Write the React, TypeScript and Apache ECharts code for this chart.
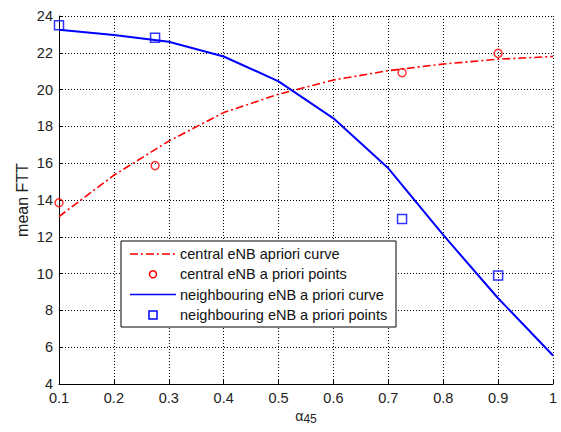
import React, { useEffect, useRef } from "react";
import * as echarts from "echarts";

const curveX = [0.1, 0.2, 0.3, 0.4, 0.5, 0.6, 0.7, 0.8, 0.9, 1.0];
const centralCurve = [13.1, 15.35, 17.2, 18.75, 19.75, 20.52, 21.03, 21.39, 21.65, 21.8];
const neighbourCurve = [23.25, 22.97, 22.6, 21.8, 20.45, 18.44, 15.72, 12.1, 8.66, 5.55];
const pointX = [0.1, 0.275, 0.725, 0.9];
const centralPoints = [13.85, 15.87, 20.92, 21.97];
const neighbourPoints = [23.5, 22.82, 12.97, 9.9];
const legendLabels = [
  "central eNB apriori curve",
  "central eNB a priori points",
  "neighbouring eNB a priori curve",
  "neighbouring eNB a priori points",
];

const FONT = "'Liberation Sans', Arial, sans-serif";
const RED = "#ff0000";
const BLUE = "#0000ff";

export default function App() {
  const ref = useRef<HTMLDivElement>(null);
  useEffect(() => {
    if (!ref.current) return;
    const chart = echarts.init(ref.current, undefined, { renderer: "svg" });
    const axisCommon = {
      axisLine: { show: true, onZero: false, lineStyle: { color: "#000", width: 1 } },
      axisTick: { show: true, inside: true, length: 4, lineStyle: { color: "#000" } },
      axisLabel: { color: "#222", fontSize: 14.5, fontFamily: FONT },
      splitLine: { show: true, lineStyle: { color: "#000", type: [1, 2], width: 1 } },
    };
    const lx = 121, ly = 241, rowH = 20.3;
    const legendGraphic: any[] = [
      {
        type: "rect",
        shape: { x: lx, y: ly, width: 275, height: 86 },
        style: { fill: "#fff", stroke: "#000", lineWidth: 1 },
        z: 100,
      },
    ];
    legendLabels.forEach((t, i) => {
      const cy = ly + 13 + i * rowH;
      if (i === 0) {
        legendGraphic.push({
          type: "line",
          shape: { x1: lx + 9, y1: cy, x2: lx + 55, y2: cy },
          style: { stroke: RED, lineWidth: 1.5, lineDash: [8, 3, 2, 3] },
          z: 101,
        });
      } else if (i === 1) {
        legendGraphic.push({
          type: "circle",
          shape: { cx: lx + 32, cy, r: 3.5 },
          style: { fill: "none", stroke: RED, lineWidth: 1.5 },
          z: 101,
        });
      } else if (i === 2) {
        legendGraphic.push({
          type: "line",
          shape: { x1: lx + 9, y1: cy, x2: lx + 55, y2: cy },
          style: { stroke: BLUE, lineWidth: 1.5 },
          z: 101,
        });
      } else {
        legendGraphic.push({
          type: "rect",
          shape: { x: lx + 28, y: cy - 4, width: 8, height: 8 },
          style: { fill: "none", stroke: BLUE, lineWidth: 1.5 },
          z: 101,
        });
      }
      legendGraphic.push({
        type: "text",
        x: lx + 59,
        y: cy,
        style: {
          text: t,
          fill: "#111",
          fontSize: 14.5,
          fontFamily: FONT,
          verticalAlign: "middle",
          align: "left",
        },
        z: 101,
      });
    });

    chart.setOption({
      animation: false,
      backgroundColor: "#fff",
      grid: { left: 59, right: 8, top: 16, bottom: 48, containLabel: false, outerBoundsMode: "none" },
      xAxis: {
        type: "value",
        min: 0.1,
        max: 1,
        interval: 0.1,
        ...axisCommon,
        axisLabel: { ...axisCommon.axisLabel, margin: 6 },
        name: "{a|α}{s|45}",
        nameLocation: "middle",
        nameGap: 25,
        nameMoveOverlap: false,
        nameTextStyle: {
          rich: {
            a: { fontSize: 14, fontFamily: FONT, color: "#222", verticalAlign: "top", lineHeight: 16, padding: [0, 0, 8, 0] },
            s: { fontSize: 12, fontFamily: FONT, color: "#222", verticalAlign: "bottom", lineHeight: 14 },
          },
        },
      },
      yAxis: {
        type: "value",
        min: 4,
        max: 24,
        interval: 2,
        ...axisCommon,
        axisLabel: { ...axisCommon.axisLabel, margin: 6 },
        name: "mean FTT",
        nameLocation: "middle",
        nameGap: 29,
        nameMoveOverlap: false,
        nameTextStyle: { fontSize: 16, fontFamily: FONT, color: "#222" },
      },
      series: [
        {
          type: "line",
          data: curveX.map((x, i) => [x, centralCurve[i]]),
          showSymbol: false,
          symbol: "none",
          lineStyle: { color: RED, width: 1.6, type: [8, 3, 2, 3] },
          z: 3,
        },
        {
          type: "scatter",
          data: pointX.map((x, i) => [x, centralPoints[i]]),
          symbol: "circle",
          symbolSize: 8,
          itemStyle: { color: "none", borderColor: RED, borderWidth: 1.5 },
          clip: false,
          z: 4,
        },
        {
          type: "line",
          data: curveX.map((x, i) => [x, neighbourCurve[i]]),
          showSymbol: false,
          symbol: "none",
          lineStyle: { color: BLUE, width: 2 },
          z: 3,
        },
        {
          type: "scatter",
          data: pointX.map((x, i) => [x, neighbourPoints[i]]),
          symbol: "rect",
          symbolSize: 9,
          itemStyle: { color: "none", borderColor: BLUE, borderWidth: 1.5 },
          clip: false,
          z: 4,
        },
      ],
      graphic: legendGraphic,
    });
    return () => chart.dispose();
  }, []);
  return <div ref={ref} style={{ width: 561, height: 432, position: "absolute", left: 0, top: 0 }} />;
}
